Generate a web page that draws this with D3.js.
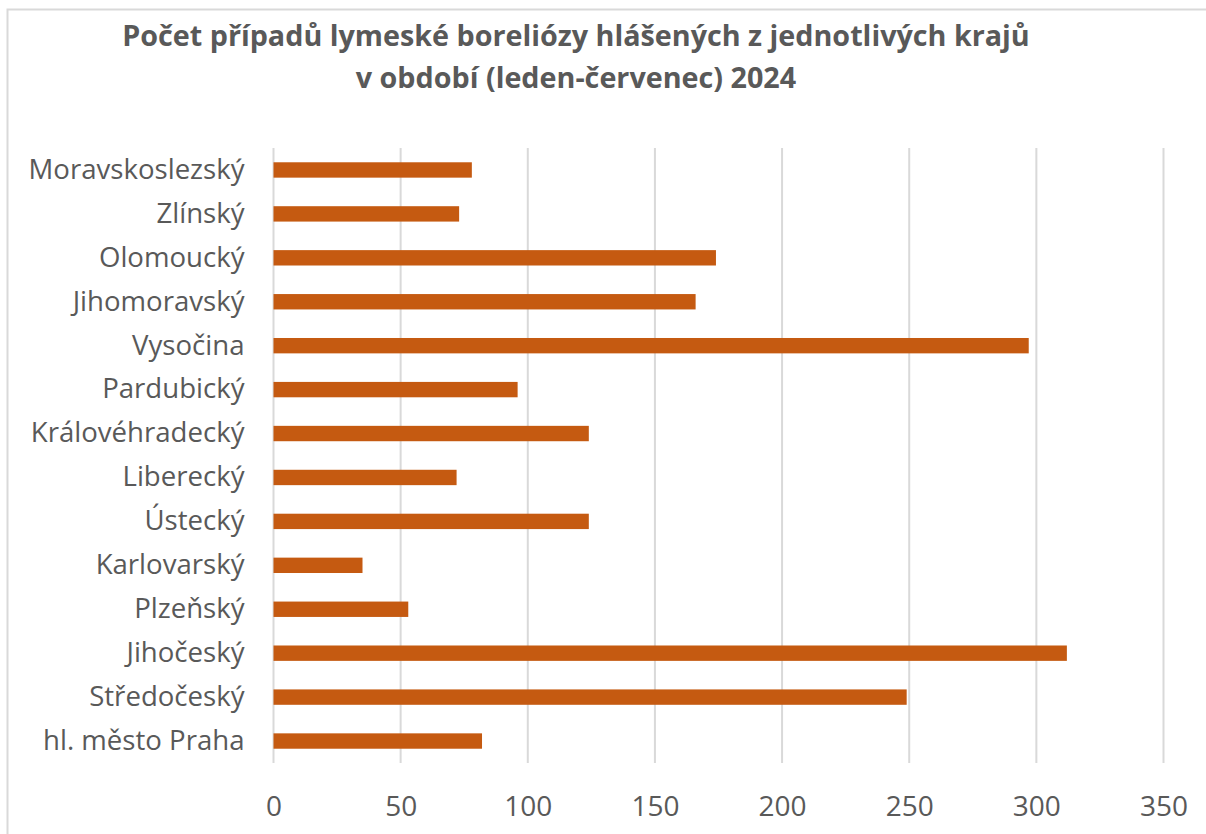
<!DOCTYPE html>
<html lang="cs">
<head>
    <meta charset="UTF-8">
    <title>Lymeská borelióza podle krajů</title>
    <script src="https://d3js.org/d3.v7.min.js"></script>
    <style>
        body { margin: 0; background: #fff; }
        text { font-family: "Open Sans", "Noto Sans", sans-serif; fill: #595959; }
        .title { font-weight: bold; }
        .grid line { stroke: #d9d9d9; stroke-width: 2px; }
        .bar { fill: #c55a11; }
    </style>
</head>
<body>
    <svg width="1206" height="834"></svg>

    <script>
        // Data (bottom to top as in the original chart)
        const regions = ["hl. město Praha", "Středočeský", "Jihočeský", "Plzeňský", "Karlovarský",
            "Ústecký", "Liberecký", "Královéhradecký", "Pardubický", "Vysočina",
            "Jihomoravský", "Olomoucký", "Zlínský", "Moravskoslezský"];
        const cases = [82, 249, 312, 53, 35, 124, 72, 124, 96, 297, 166, 174, 73, 78];
        const xTicks = [0, 50, 100, 150, 200, 250, 300, 350];
        const titleLines = ["Počet případů lymeské boreliózy hlášených z jednotlivých krajů",
            "v období (leden-červenec) 2024"];

        const svg = d3.select("svg");

        // Chart border (clipped at the right and bottom edges)
        svg.append("rect")
            .attr("x", 7.5).attr("y", 9.5)
            .attr("width", 1220).attr("height", 860)
            .attr("fill", "none")
            .attr("stroke", "#d9d9d9")
            .attr("stroke-width", 2);

        const plot = { left: 273.5, right: 1163.5, top: 148, bottom: 763 };

        const x = d3.scaleLinear()
            .domain([0, 350])
            .range([plot.left, plot.right]);

        const y = d3.scaleBand()
            .domain(regions.slice().reverse())
            .range([plot.top, plot.bottom])
            .paddingInner(0.65)
            .paddingOuter(0.325);

        // Vertical gridlines
        svg.append("g")
            .attr("class", "grid")
            .selectAll("line")
            .data(xTicks)
            .join("line")
            .attr("x1", d => x(d)).attr("x2", d => x(d))
            .attr("y1", plot.top).attr("y2", plot.bottom);

        // Bars
        svg.selectAll(".bar")
            .data(regions)
            .join("rect")
            .attr("class", "bar")
            .attr("x", x(0))
            .attr("y", d => y(d))
            .attr("width", (d, i) => x(cases[i]) - x(0))
            .attr("height", y.bandwidth());

        // X axis labels
        const xAxis = svg.append("g")
            .attr("transform", `translate(0,${plot.bottom})`)
            .call(d3.axisBottom(x).tickValues(xTicks).tickSize(0));
        xAxis.select(".domain").remove();
        xAxis.selectAll("text")
            .attr("font-family", null)
            .attr("y", 53)
            .attr("dy", null)
            .style("font-size", "28px");

        // Category labels
        const yAxis = svg.append("g")
            .attr("transform", `translate(${plot.left},0)`)
            .call(d3.axisLeft(y).tickSize(0).tickPadding(29));
        yAxis.select(".domain").remove();
        yAxis.selectAll("text")
            .attr("font-family", null)
            .style("font-size", "26px");

        // fit category label size to the widest label in the picture (~216px)
        const widest = d3.max(yAxis.selectAll("text").nodes(), n => n.getComputedTextLength());
        yAxis.selectAll("text").style("font-size", (26 * 216 / widest) + "px");

        // Title
        const title = svg.append("g").attr("class", "title");
        title.selectAll("text")
            .data(titleLines)
            .join("text")
            .attr("x", 576)
            .attr("y", (d, i) => 46 + i * 42)
            .attr("text-anchor", "middle")
            .style("font-size", "28px")
            .text(d => d);
        const tw = title.select("text").node().getComputedTextLength();
        title.selectAll("text").style("font-size", (28 * 908 / tw) + "px");
    </script>
</body>
</html>
